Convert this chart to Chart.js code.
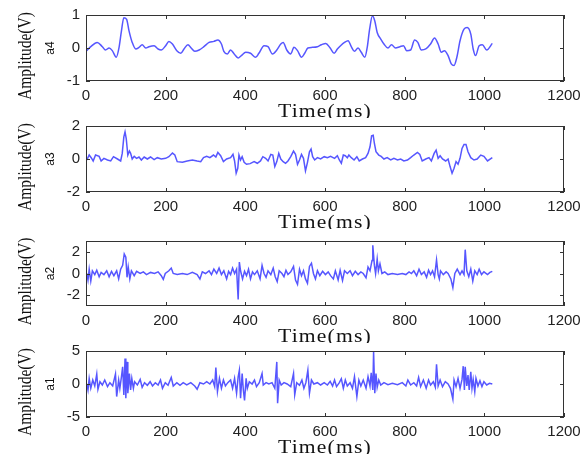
<!DOCTYPE html>
<html>
<head>
<meta charset="utf-8">
<script src="https://cdn.jsdelivr.net/npm/chart.js@4"></script>
<style>
  body { margin: 0; background: #fff; width: 587px; height: 463px; position: relative; overflow: hidden; }
  canvas { position: absolute; left: 0; }
</style>
</head>
<body>
<canvas id="c4" width="587" height="118" style="top:0px"></canvas>
<canvas id="c3" width="587" height="118" style="top:111px"></canvas>
<canvas id="c2" width="587" height="117" style="top:226px"></canvas>
<canvas id="c1" width="587" height="118" style="top:336px"></canvas>
<script>
// time axis ticks (ms)
const timeTicks = [0, 200, 400, 600, 800, 1000, 1200];

// a4: smooth approximation
const timeA4 = [2,12,28,41,49,58,66,76,83,89,
  95,102,108,116,125,133,141,150,158,171,
  181,189,200,208,217,228,238,246,256,264,
  273,284,296,309,321,331,340,346,355,363,
  372,382,390,401,413,426,434,447,457,468,
  479,489,495,504,514,522,531,541,549,557,
  568,581,591,602,613,623,631,639,649,658,
  666,674,683,691,700,706,712,719,725,731,
  740,748,758,767,777,788,797,805,815,825,
  833,842,853,865,875,884,892,900,909,917,
  924,931,939,949,957,966,972,978,987,995,
  1006,1020];
const a4Values = [-0.08,0.04,0.17,0.04,-0.06,0,-0.08,-0.28,0.02,0.52,
  0.92,0.87,0.52,0.17,-0.03,0.02,0.1,0,0.04,0.07,
  -0.03,-0.06,0.07,0.2,0.12,-0.08,-0.16,-0.03,0.1,0,
  -0.1,-0.06,0.04,0.17,0.2,0.24,0.12,-0.1,-0.18,-0.06,
  -0.18,-0.3,-0.23,-0.13,-0.16,-0.28,-0.16,0.07,0.04,-0.18,
  -0.06,0.12,0.17,-0.06,-0.18,0.02,-0.08,-0.28,-0.16,0,
  0.02,0.04,0.1,0.14,0,-0.16,-0.03,0.07,0.17,0.22,
  0.04,-0.1,0,-0.13,-0.28,0.02,0.57,0.97,0.82,0.47,
  0.27,0.12,0,0.1,0,0.04,0.07,-0.08,-0.06,0.24,
  0.17,-0.06,-0.03,0.12,0.3,0.12,-0.13,-0.08,-0.23,-0.48,
  -0.53,-0.28,0.22,0.57,0.62,0.42,-0.03,-0.23,0.07,0.1,
  -0.06,0.14];

// a3
const timeA3 = [2,8,13,18,24,33,38,45,54,62,
  69,79,87,91,95,98,101,105,109,112,
  116,121,127,133,139,146,154,162,171,179,
  189,200,208,217,223,229,242,254,267,279,
  288,295,303,311,320,326,331,338,345,353,
  363,369,373,377,381,384,388,392,397,403,
  412,422,430,438,444,451,457,464,469,474,
  479,484,489,495,501,507,514,521,526,531,
  536,541,546,551,556,561,565,569,574,581,
  589,598,606,614,624,631,636,641,646,651,
  656,660,666,673,680,686,694,702,708,713,
  717,721,724,728,735,741,748,756,765,773,
  782,790,798,807,815,823,832,838,844,853,
  861,867,874,879,884,889,895,903,909,914,
  919,924,929,934,939,944,949,954,959,966,
  974,982,991,999,1008,1020];
const a3Values = [-0.06,0.24,0.08,-0.12,0.24,0.16,-0.12,0.04,-0.06,-0.12,
  0.14,0,-0.12,0.34,1.34,1.64,1.24,0.24,0.48,0.34,
  0,0.16,0.04,0.12,-0.06,0.12,0,0.12,-0.04,0.08,
  0,0.04,0.14,0.36,0.24,-0.16,-0.2,-0.12,-0.06,-0.12,
  -0.16,0.08,0.16,0.08,0.24,0.12,0.4,0.2,-0.16,0,
  0.08,0.28,-0.12,-0.86,-0.56,0.24,-0.06,0.14,-0.2,-0.32,
  -0.28,-0.16,-0.26,-0.12,0.14,0.04,-0.12,0.28,0.24,-0.46,
  -0.16,0.34,0,-0.16,-0.26,-0.12,0.14,0.48,0.28,-0.32,
  -0.06,0.28,0.04,-0.72,-0.2,0.44,0.6,0.14,-0.06,0.08,
  0,0.14,0.08,0.16,0.04,0.2,-0.06,-0.26,0.24,0.2,
  0.08,0.24,0.08,-0.06,0.14,-0.12,0,0.08,0.34,0.74,
  1.4,1.44,0.94,0.44,0.24,0.16,0,0.08,-0.06,0.04,
  -0.06,0,-0.12,-0.06,0.08,0.24,0.4,0.28,-0.12,0,
  0.08,-0.12,0.34,0.54,0.04,0.2,0,-0.12,0,-0.46,
  -0.86,-0.56,-0.16,-0.32,0.04,0.64,0.88,0.88,0.44,0.08,
  -0.06,0,0.24,0.16,-0.12,0.08];

// a2
const timeA2 = [2,5,8,12,16,22,27,33,38,45,
  52,58,64,70,77,82,87,92,96,100,
  103,106,110,114,121,127,136,144,152,162,
  172,181,189,194,199,208,214,219,229,242,
  254,267,279,286,292,300,309,315,321,328,
  334,340,346,353,358,363,368,373,378,382,
  385,388,393,398,403,408,413,418,423,430,
  437,442,447,452,457,464,470,475,480,485,
  492,497,502,507,514,521,526,531,536,541,
  546,551,556,561,566,571,576,581,587,594,
  601,608,614,621,626,633,638,644,649,656,
  663,669,676,683,690,696,703,708,713,718,
  720,724,727,731,734,738,743,750,758,769,
  782,794,803,811,817,823,830,836,842,849,
  855,860,865,870,875,880,884,887,890,897,
  904,909,916,921,926,932,939,944,949,952,
  956,961,966,971,976,982,987,993,999,1008,
  1014,1020];
const a2Values = [0,-0.6,0.4,-0.7,0.25,-0.1,0.3,-0.3,0.1,-0.1,
  0.25,-0.3,0.2,-0.2,0.25,-0.5,0.4,0.75,1.8,1.5,
  -0.35,0.6,-0.5,0.25,-0.2,0.2,0,0.15,-0.1,0.1,
  0,0.15,-0.2,-0.55,0,0.25,0.5,0,-0.1,0,
  -0.1,0.1,-0.1,-0.5,0.15,0,0.25,-0.1,0.4,0,
  0.5,-0.1,0.25,-0.5,0.2,-0.1,0.5,0,0.4,-2.4,
  1.05,0.25,-0.5,0.2,-0.2,0.4,-0.5,0.15,-0.1,0.25,
  -0.5,0.75,0,-0.35,0.25,-0.1,0.5,-0.3,-0.75,0.25,
  0,-0.3,0.3,-0.1,0.15,0.65,-0.6,-1.0,0.4,-0.2,
  0.25,-0.5,-0.9,0.65,0.95,0,-0.5,0.25,-0.2,0.2,
  -0.1,0.15,-0.2,-0.5,0.25,-0.6,0.3,-0.65,0.25,0,
  0.25,-0.2,0.2,-0.1,0.15,0,-0.4,0.6,0.25,1.2,
  2.6,0.75,0,1.35,0.25,0.9,0,0.15,-0.1,0,
  -0.1,0,-0.1,0.15,0,0.25,-0.2,0.4,-0.1,0.15,
  -0.35,0.3,-0.1,0.25,-0.3,1.25,-0.1,-0.5,0.25,-0.1,
  0.15,0,-0.5,-1.3,0,0.4,-0.1,0.25,-0.1,2.2,
  0.25,-0.3,0.4,-0.7,0.25,-0.1,0.4,-0.1,0.15,-0.1,
  0.1,0.2];

// a1
const timeA1 = [2,5,8,12,17,22,27,30,35,41,
  47,54,60,67,74,77,82,85,89,92,
  95,98,100,103,105,109,112,115,119,122,
  129,136,141,147,154,161,167,174,181,187,
  192,199,206,214,219,228,236,244,253,263,
  273,279,286,295,303,311,318,323,326,330,
  335,340,345,350,356,363,368,373,378,382,
  385,388,392,395,398,402,405,410,417,423,
  428,435,442,445,452,459,467,474,479,481,
  485,490,497,505,514,521,524,529,536,542,
  547,552,557,561,566,572,581,589,598,606,
  613,619,624,629,636,641,646,651,656,663,
  669,674,680,685,690,696,703,708,713,716,
  720,722,725,728,731,735,740,748,758,769,
  782,794,803,808,815,823,830,835,840,847,
  854,860,865,872,877,880,884,889,895,902,
  909,915,921,924,929,934,939,944,947,950,
  952,956,959,962,966,969,972,976,979,984,
  989,994,999,1006,1013,1020];
const a1Values = [0,-0.9,0.85,-0.65,0.6,-0.3,1.5,-0.8,0.35,-0.15,
  0.6,-0.4,0.2,-0.3,1.5,-1.9,0.6,-0.65,1.1,2.6,
  -1.65,3.85,-2.15,3.35,-1.4,1.6,-0.9,0.85,-0.65,0.35,
  -0.15,0.7,-0.5,0.2,-0.2,0.35,-0.3,0.2,-0.15,0.6,
  -0.65,0.2,-0.2,1.0,-0.3,0.2,-0.2,0.2,-0.15,0.2,
  -0.3,-0.8,0.2,0,0.35,0,0.6,-0.4,2.5,-1.15,
  0.85,-0.65,0.6,-0.3,0.2,0.6,-0.65,0.85,-1.4,1.1,
  2.1,-2.15,1.6,-0.9,-2.5,0.85,-0.65,0.35,0,0.6,
  -0.4,0.2,1.6,-0.15,0.2,0,0.2,-0.65,3.35,-2.9,
  0.6,-0.15,0.2,0,-0.4,1.6,-1.65,0.2,-0.2,0.6,
  -0.65,0.2,2.1,-1.4,0.6,0,0.2,-0.15,0.2,-0.15,
  0.4,-0.3,0.6,-0.4,0.2,0.8,-0.65,0.6,-0.3,0.2,
  -0.65,1.1,-1.9,0.6,-0.3,0.6,-0.65,1.1,-0.3,1.7,
  -0.9,4.85,-1.4,1.6,-0.5,0.6,-0.15,0.2,-0.1,0.1,
  -0.1,0.2,-0.3,0.6,-0.15,0.2,-0.3,1.0,-0.4,0.6,
  -0.65,0.6,-0.15,0.35,-0.5,3.0,-0.3,0.6,-0.4,0.35,
  0,-0.65,-2.3,0.6,-0.4,0.85,-0.65,0.7,2.7,-0.9,
  2.6,-0.3,1.35,-0.9,1.85,-0.65,0.7,-1.15,0.85,-0.3,
  0.5,-0.4,0.35,-0.15,0.1,0];

const panels = [
  { id: 'c4', name: 'a4', times: timeA4, values: a4Values, range: 1, yTicks: [-1, 0, 1], smooth: true },
  { id: 'c3', name: 'a3', times: timeA3, values: a3Values, range: 2, yTicks: [-2, 0, 2], smooth: false },
  { id: 'c2', name: 'a2', times: timeA2, values: a2Values, range: 3, yTicks: [-2, 0, 2], smooth: false },
  { id: 'c1', name: 'a1', times: timeA1, values: a1Values, range: 5, yTicks: [-5, 0, 5], smooth: false }
];

const tickFont = { family: '"Liberation Sans Narrow", "Arial Narrow", "Liberation Sans", Arial, sans-serif', size: 15 };
const serif = '"Liberation Serif", "Times New Roman", serif';

function framePlugin(name) {
  return {
    id: 'frame',
    afterDraw(chart) {
      const { ctx, chartArea: a, scales: { x, y } } = chart;
      ctx.save();
      ctx.strokeStyle = '#333';
      ctx.lineWidth = 1;
      ctx.strokeRect(a.left + 0.5, a.top + 0.5, a.right - a.left - 1, a.bottom - a.top - 1);
      ctx.beginPath();
      timeTicks.forEach(v => {
        const px = Math.round(x.getPixelForValue(v)) + 0.5;
        ctx.moveTo(px, a.bottom); ctx.lineTo(px, a.bottom - 4);
        ctx.moveTo(px, a.top); ctx.lineTo(px, a.top + 4);
      });
      y.ticks.forEach(t => {
        const py = Math.round(y.getPixelForValue(t.value)) + 0.5;
        ctx.moveTo(a.left, py); ctx.lineTo(a.left + 4, py);
        ctx.moveTo(a.right, py); ctx.lineTo(a.right - 4, py);
      });
      ctx.stroke();

      const cy = (a.top + a.bottom) / 2;
      ctx.fillStyle = '#111';
      ctx.textAlign = 'center';
      ctx.textBaseline = 'middle';

      ctx.save();
      ctx.translate(26, cy + 8);
      ctx.rotate(-Math.PI / 2);
      ctx.scale(0.86, 1);
      ctx.font = '18px ' + serif;
      ctx.fillText('Amplitude(V)', 0, 0);
      ctx.restore();

      ctx.save();
      ctx.translate(51, cy);
      ctx.rotate(-Math.PI / 2);
      ctx.font = '12px "Liberation Sans", Arial, sans-serif';
      ctx.fillText(name, 0, 0);
      ctx.restore();

      ctx.save();
      ctx.translate((a.left + a.right) / 2, a.bottom + 31);
      ctx.scale(1.2, 1);
      ctx.font = '18px ' + serif;
      ctx.letterSpacing = '1px';
      ctx.fillText('Time(ms)', 0, 0);
      ctx.restore();

      ctx.restore();
    }
  };
}

panels.forEach(p => {
  const points = p.times.map((t, i) => ({ x: t, y: p.values[i] }));
  new Chart(document.getElementById(p.id), {
    type: 'line',
    data: {
      datasets: [{
        data: points,
        borderColor: 'rgba(30, 30, 255, 0.75)',
        borderWidth: 1.5,
        pointRadius: 0,
        fill: false,
        cubicInterpolationMode: p.smooth ? 'monotone' : 'default',
        tension: 0
      }]
    },
    options: {
      responsive: false,
      animation: false,
      devicePixelRatio: 1,
      layout: { padding: { top: 14, right: 23, left: 0, bottom: 0 } },
      plugins: { legend: { display: false }, tooltip: { enabled: false } },
      scales: {
        x: {
          type: 'linear',
          min: 0,
          max: 1200,
          afterBuildTicks: s => { s.ticks = timeTicks.map(v => ({ value: v })); },
          ticks: { font: tickFont, color: '#222', padding: 6, maxRotation: 0, callback: v => String(v) },
          grid: { display: false, drawTicks: false },
          border: { display: false },
          afterFit: s => { s.height = 37; }
        },
        y: {
          min: -p.range,
          max: p.range,
          afterBuildTicks: s => { s.ticks = p.yTicks.map(v => ({ value: v })); },
          ticks: { font: tickFont, color: '#222', padding: 6, callback: v => String(v) },
          grid: { display: false, drawTicks: false },
          border: { display: false },
          afterFit: s => { s.width = 86; }
        }
      }
    },
    plugins: [framePlugin(p.name)]
  });
});
</script>
</body>
</html>
